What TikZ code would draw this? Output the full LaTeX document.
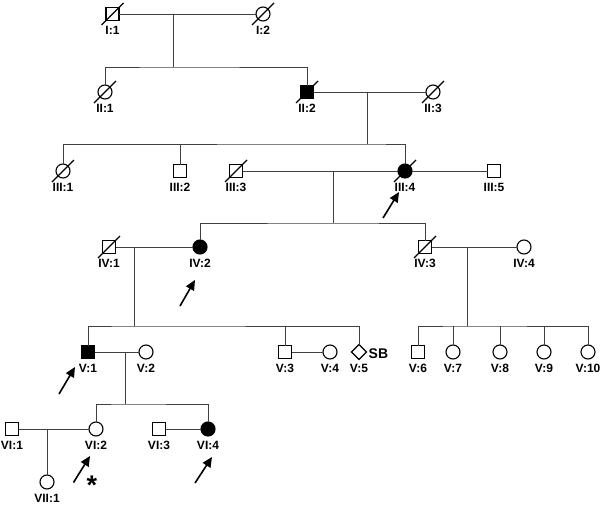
\documentclass[tikz,border=0pt]{standalone}
\usepackage{fontspec}
\setmainfont{Liberation Sans}
\usetikzlibrary{arrows.meta,shapes.geometric}
\begin{document}
\begin{tikzpicture}[x=1pt,y=-1pt,
  conn/.style={draw=black!75,line width=0.8pt},
  sym/.style={draw=black,line width=1.1pt,inner sep=0pt,outer sep=0pt},
  male/.style={sym,rectangle,minimum size=13pt},
  female/.style={sym,circle,minimum size=14pt},
  unk/.style={sym,diamond,minimum size=15pt},
  aff/.style={fill=black},
  lab/.style={font=\bfseries\fontsize{12}{13}\selectfont,inner sep=0pt},
  slash/.style={draw=black,line width=1.1pt},
  proband/.style={draw=black,line width=1.6pt,-{Triangle[length=10pt,width=9pt]}}]
\useasboundingbox (0,0) rectangle (600,506);
% individuals
\node[male] (I1) at (112.5,14) {};
\node[female] (I2) at (263,14) {};
\node[female] (II1) at (105,92) {};
\node[male,aff] (II2) at (307,92) {};
\node[female] (II3) at (433,92) {};
\node[female] (III1) at (63,171) {};
\node[male] (III2) at (180,171) {};
\node[male] (III3) at (236,171) {};
\node[female,aff] (III4) at (405,171) {};
\node[male] (III5) at (494,171) {};
\node[male] (IV1) at (109,247) {};
\node[female,aff] (IV2) at (200,247) {};
\node[male] (IV3) at (425,247) {};
\node[female] (IV4) at (524,247) {};
\node[male,aff] (V1) at (88,352) {};
\node[female] (V2) at (146,352) {};
\node[male] (V3) at (285,352) {};
\node[female] (V4) at (330,352) {};
\node[unk] (V5) at (359,352) {};
\node[male] (V6) at (418,352) {};
\node[female] (V7) at (453,352) {};
\node[female] (V8) at (500,352) {};
\node[female] (V9) at (544,352) {};
\node[female] (V10) at (588,352) {};
\node[male] (VI1) at (12,429) {};
\node[female] (VI2) at (96,429) {};
\node[male] (VI3) at (159,429) {};
\node[female,aff] (VI4) at (208,429) {};
\node[female] (VII1) at (47,482) {};
% labels
\foreach \n/\t in {I1/I:1,I2/I:2,II1/II:1,II2/II:2,II3/II:3,III1/III:1,III2/III:2,III3/III:3,III4/III:4,III5/III:5,IV1/IV:1,IV2/IV:2,IV3/IV:3,IV4/IV:4,V1/V:1,V2/V:2,V3/V:3,V4/V:4,V5/V:5,V6/V:6,V7/V:7,V8/V:8,V9/V:9,V10/V:10,VI1/VI:1,VI2/VI:2,VI3/VI:3,VI4/VI:4,VII1/VII:1}
  \node[lab] (l\n) at ([yshift=-16.5pt]\n.center) {\t};
\node[lab,font=\bfseries\fontsize{14}{15}\selectfont,anchor=west] (sb) at ([xshift=2pt,yshift=-2pt]V5.east) {SB};
% deceased slashes
\foreach \n in {I1,I2,II1,II2,II3,III1,III3,III4,IV1,IV3}
  \draw[slash] ([shift={(-11,11)}]\n.center) -- ([shift={(11,-11)}]\n.center);
% coordinates for lines
\coordinate (m1) at (173,14);   \coordinate (s1) at (173,67);
\coordinate (m2) at (367,92);   \coordinate (s2) at (367,144);
\coordinate (m3) at (333,171);  \coordinate (s3) at (333,223);
\coordinate (m4) at (134,247);  \coordinate (s4) at (134,326);
\coordinate (m5) at (467,247);  \coordinate (s5) at (467,326);
\coordinate (m6) at (125,352);  \coordinate (s6) at (125,404);
\coordinate (m7) at (47,429);
% marriages
\draw[conn] (I1) -- (I2);
\draw[conn] (II2) -- (II3);
\draw[conn] (III3) -- (III4);
\draw[conn] (III4) -- (III5);
\draw[conn] (IV1) -- (IV2);
\draw[conn] (IV3) -- (IV4);
\draw[conn] (V1) -- (V2);
\draw[conn] (V3) -- (V4);
\draw[conn] (VI1) -- (VI2);
\draw[conn] (VI3) -- (VI4);
% descent
\draw[conn] (m1) -- (s1);
\draw[conn] (II1.north) |- (s1) -| (II2.north);
\draw[conn] (m2) -- (s2);
\draw[conn] (III1.north) |- (s2) -| (III4.north);
\draw[conn] (III2.north) -- (III2.north |- s2);
\draw[conn] (m3) -- (s3);
\draw[conn] (IV2.north) |- (s3) -| (IV3.north);
\draw[conn] (m4) -- (s4);
\draw[conn] (V1.north) |- (s4) -| (V5.north);
\draw[conn] (V3.north) -- (V3.north |- s4);
\draw[conn] (m5) -- (s5);
\draw[conn] (V6.north) |- (s5) -| (V10.north);
\foreach \n in {V7,V8,V9} \draw[conn] (\n.north) -- (\n.north |- s5);
\draw[conn] (m6) -- (s6);
\draw[conn] (VI2.north) |- (s6) -| (VI4.north);
\draw[conn] (m7) -- (VII1.north);
% proband arrows
\coordinate (a1s) at (180,306); \coordinate (a1e) at (195,280);
\coordinate (a2s) at (383,218); \coordinate (a2e) at (399,192);
\coordinate (a3s) at (59,394);  \coordinate (a3e) at (75,367);
\coordinate (a4s) at (73.5,482.5); \coordinate (a4e) at (90,456);
\coordinate (a5s) at (195,483); \coordinate (a5e) at (212,457);
\draw[proband] (a1s) -- (a1e);
\draw[proband] (a2s) -- (a2e);
\draw[proband] (a3s) -- (a3e);
\draw[proband] (a4s) -- (a4e);
\draw[proband] (a5s) -- (a5e);
\node[inner sep=0pt,anchor=north,font=\bfseries\fontsize{27}{27}\selectfont] (ast) at (92,475.5) {*};
\end{tikzpicture}
\end{document}
